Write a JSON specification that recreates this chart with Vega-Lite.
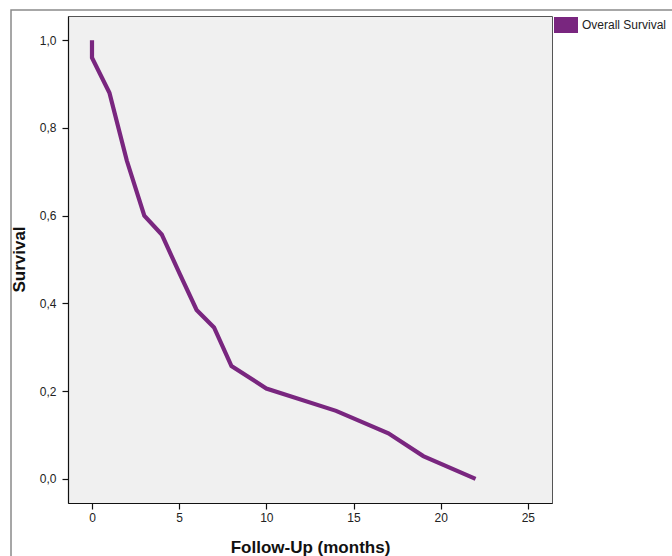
{
  "$schema": "https://vega.github.io/schema/vega-lite/v6.json",
  "width": 484,
  "height": 487,
  "autosize": {"type": "none"},
  "padding": {"left": 68, "top": 16, "right": 120, "bottom": 53},
  "background": "white",
  "config": {
    "font": "Liberation Sans",
    "view": {"fill": "#f0f0f0", "stroke": "#555555", "strokeWidth": 1},
    "axis": {
      "grid": false,
      "domainColor": "#111111",
      "domainWidth": 1.2,
      "tickColor": "#111111",
      "tickWidth": 1.2,
      "tickSize": 6,
      "labelFont": "Liberation Sans",
      "labelFontSize": 12,
      "labelColor": "#222222",
      "titleFont": "Liberation Sans",
      "titleFontSize": 17,
      "titleFontWeight": "bold",
      "titleColor": "#111111"
    }
  },
  "data": {
    "values": [
      {"i": 0, "t": 0, "s": 1.0, "series": "Overall Survival"},
      {"i": 1, "t": 0, "s": 0.96, "series": "Overall Survival"},
      {"i": 2, "t": 1, "s": 0.88, "series": "Overall Survival"},
      {"i": 3, "t": 2, "s": 0.725, "series": "Overall Survival"},
      {"i": 4, "t": 3, "s": 0.6, "series": "Overall Survival"},
      {"i": 5, "t": 4, "s": 0.557, "series": "Overall Survival"},
      {"i": 6, "t": 5, "s": 0.47, "series": "Overall Survival"},
      {"i": 7, "t": 6, "s": 0.385, "series": "Overall Survival"},
      {"i": 8, "t": 7, "s": 0.345, "series": "Overall Survival"},
      {"i": 9, "t": 8, "s": 0.257, "series": "Overall Survival"},
      {"i": 10, "t": 10, "s": 0.206, "series": "Overall Survival"},
      {"i": 11, "t": 14, "s": 0.155, "series": "Overall Survival"},
      {"i": 12, "t": 17, "s": 0.104, "series": "Overall Survival"},
      {"i": 13, "t": 19, "s": 0.052, "series": "Overall Survival"},
      {"i": 14, "t": 22, "s": 0.0, "series": "Overall Survival"}
    ]
  },
  "layer": [
    {
      "data": {"values": [{"frame": 1}]},
      "mark": {"type": "rect", "filled": false, "stroke": "#8a8a8a", "strokeWidth": 1.5, "clip": false},
      "encoding": {
        "x": {"datum": -4.645, "type": "quantitative"},
        "x2": {"datum": 40},
        "y": {"datum": 1.0687, "type": "quantitative"},
        "y2": {"datum": -0.3}
      }
    },
    {
      "mark": {"type": "line", "strokeWidth": 4.2, "clip": false},
      "encoding": {
        "x": {
          "field": "t",
          "type": "quantitative",
          "scale": {"domain": [-1.376, 26.384], "nice": false, "zero": false},
          "axis": {
            "values": [0, 5, 10, 15, 20, 25],
            "labelPadding": 3,
            "title": "Follow-Up (months)",
            "titleX": 242,
            "titleY": 49,
            "titleAlign": "center",
            "titleBaseline": "alphabetic"
          }
        },
        "y": {
          "field": "s",
          "type": "quantitative",
          "scale": {"domain": [-0.055, 1.055], "nice": false, "zero": false},
          "axis": {
            "values": [0, 0.2, 0.4, 0.6, 0.8, 1.0],
            "labelExpr": "replace(format(datum.value, '.1f'), '.', ',')",
            "labelPadding": 6,
            "title": "Survival",
            "titleX": -44,
            "titleY": 243,
            "titleAngle": 270,
            "titleAlign": "center",
            "titleBaseline": "alphabetic"
          }
        },
        "order": {"field": "i", "type": "quantitative"},
        "color": {
          "field": "series",
          "type": "nominal",
          "scale": {"range": ["#79267f"]},
          "legend": {
            "title": null,
            "orient": "none",
            "legendX": 490,
            "legendY": 1,
            "padding": 0,
            "symbolType": "M-1.5,-1H1.5V1H-1.5Z",
            "symbolSize": 256,
            "labelOffset": 8,
            "labelFontSize": 12,
            "labelFont": "Liberation Sans",
            "labelColor": "#222222",
            "encode": {
              "symbols": {
                "update": {
                  "fill": {"value": "#79267f"},
                  "stroke": {"value": "#79267f"},
                  "strokeWidth": {"value": 0},
                  "opacity": {"value": 1}
                }
              }
            }
          }
        }
      }
    }
  ]
}
